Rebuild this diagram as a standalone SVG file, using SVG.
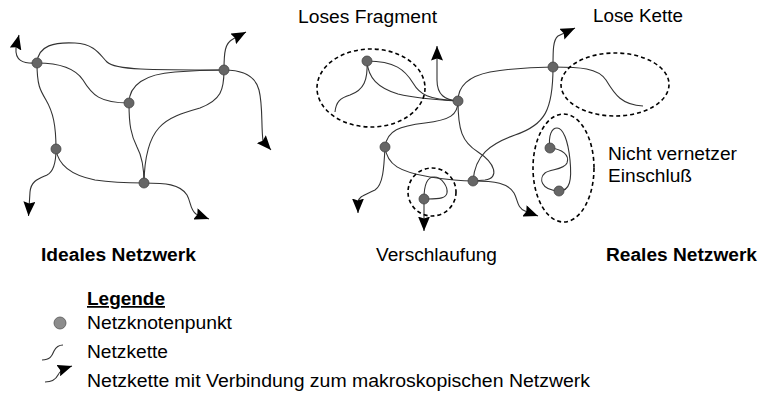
<svg xmlns="http://www.w3.org/2000/svg" width="762" height="396" viewBox="0 0 762 396">
  <style>
    .e { fill: none; stroke: #333; stroke-width: 1.1; }
    .a { marker-end: url(#ah); }
    .n { fill: #666; stroke: #444; stroke-width: 0.8; }
    .d { fill: none; stroke: #000; stroke-width: 1.6; stroke-dasharray: 4 3; }
    .t { font-family: "Liberation Sans", Arial, sans-serif; font-size: 17.5px; fill: #000; }
    .b { font-weight: bold; }
  </style>
  <defs>
    <marker id="ah" markerUnits="userSpaceOnUse" markerWidth="15" markerHeight="12" viewBox="0 0 15 12" refX="14.5" refY="6" orient="auto">
      <path d="M0,0 L14.5,6 L0,12 L2,6 z" fill="#000"/>
    </marker>
  </defs>
  <rect width="762" height="396" fill="#fff"/>

  <!-- ideal network: chains -->
  <g id="connectors-ideal">
    <path class="e a" d="M37,63 C22,64 15,60 16,48 C16.5,43 18,39 19,35"/>
    <path class="e" d="M37,63 C38,45 55,42 75,43 C95,44 100,55 107,62 C115,70 150,70 224,70"/>
    <path class="e" d="M37,63 C60,63 75,68 83,80 C92,95 100,103 129,103"/>
    <path class="e" d="M37,63 C37,85 40,90 46,100 C53,112 56,125 56,149"/>
    <path class="e" d="M129,103 C129,85 145,74 175,72 C200,70 215,70 224,70"/>
    <path class="e" d="M129,103 C129,125 131,135 137,147 C143,158 144,170 144,183"/>
    <path class="e" d="M224,70 C224,90 221,100 200,108 C165,118 145,125 144,183"/>
    <path class="e a" d="M224,70 C224,52 225,43 233,39 L246,32"/>
    <path class="e a" d="M224,70 C240,70 255,74 259,90 C263,106 261,125 263,141 L271,150"/>
    <path class="e" d="M56,149 C58,165 70,175 95,180 C115,183 130,183 144,183"/>
    <path class="e a" d="M56,149 C56,165 53,172 47,175 C38,179 31,181 30,192 L28.5,216"/>
    <path class="e a" d="M144,183 C165,183 180,184 187,195 C191,202 190,210 196,214 L209,219"/>
  </g>

  <!-- real network: chains -->
  <g id="connectors-real">
    <path class="e" d="M367,61 C395,61 405,70 413,83 C420,95 428,99 458,101"/>
    <path class="e" d="M367,61 C368,78 378,88 398,94 C415,98 440,100 458,101"/>
    <path class="e" d="M367,61 C368,80 364,90 350,95 C340,98 336,102 335,112"/>
    <path class="e a" d="M458,101 C445,100 437,95 437,80 L437,46"/>
    <path class="e" d="M458,101 C458,85 470,76 490,72 C515,68 535,67 553,67"/>
    <path class="e" d="M458,101 C458,115 450,120 425,123 C400,126 387,130 385,147"/>
    <path class="e" d="M458,101 C458,130 462,142 478,152 C495,163 500,178 485,180 L473,181"/>
    <path class="e" d="M553,67 C553,110 545,125 515,135 C490,144 475,155 473,181"/>
    <path class="e" d="M385,147 C387,165 400,172 430,177 C450,180 460,181 473,181"/>
    <path class="e a" d="M385,147 C384,168 383,185 375,190 C365,195 359,196 358,202 L358,213"/>
    <path class="e" d="M424,199 C424,186 426,177 434,177 C442,177 448,187 447,193 C446,198 440,199 428,199"/>
    <path class="e a" d="M424,199 L424,231"/>
    <path class="e a" d="M473,181 C495,181 508,183 514,193 C518,200 517,208 525,211 L538,216"/>
    <path class="e a" d="M553,67 C553,50 553,40 558,36 L575,28"/>
    <path class="e" d="M553,67 C580,67 598,68 606,80 C615,95 622,105 643,106"/>
    <path class="e" d="M550,148 C548,135 552,128 557,128 C563,128 568,140 570,160 C572,180 570,191 559,191"/>
    <path class="e" d="M550,148 C562,149 570,155 567,163 C564,170 550,169 545,173 C539,178 540,190 559,191"/>
  </g>

  <!-- highlighted defects -->
  <g id="marks">
    <ellipse class="d" cx="371" cy="88" rx="54" ry="39"/>
    <circle class="d" cx="432" cy="192" r="24"/>
    <ellipse class="d" cx="615" cy="84.5" rx="54" ry="31.5"/>
    <ellipse class="d" cx="563.5" cy="168" rx="30.5" ry="54"/>
  </g>

  <!-- ideal network: junctions -->
  <g id="ideal-a"><circle class="n" cx="37" cy="63" r="5"/></g>
  <g id="ideal-b"><circle class="n" cx="129" cy="103" r="5"/></g>
  <g id="ideal-c"><circle class="n" cx="224" cy="70" r="5"/></g>
  <g id="ideal-d"><circle class="n" cx="56" cy="149" r="5"/></g>
  <g id="ideal-e"><circle class="n" cx="144" cy="183" r="5"/></g>

  <!-- real network: junctions -->
  <g id="real-fragment"><circle class="n" cx="367" cy="61" r="5"/></g>
  <g id="real-g"><circle class="n" cx="458" cy="101" r="5"/></g>
  <g id="real-h"><circle class="n" cx="385" cy="147" r="5"/></g>
  <g id="real-loop"><circle class="n" cx="424" cy="199" r="5"/></g>
  <g id="real-j"><circle class="n" cx="473" cy="181" r="5"/></g>
  <g id="real-k"><circle class="n" cx="553" cy="67" r="5"/></g>
  <g id="real-incl-top"><circle class="n" cx="550" cy="148" r="5"/></g>
  <g id="real-incl-bottom"><circle class="n" cx="559" cy="191" r="5"/></g>

  <!-- labels -->
  <g id="labels">
    <text class="t" x="298" y="23" textLength="139" lengthAdjust="spacingAndGlyphs">Loses Fragment</text>
    <text class="t" x="593" y="22" textLength="90" lengthAdjust="spacingAndGlyphs">Lose Kette</text>
    <text class="t" x="608" y="160" textLength="129" lengthAdjust="spacingAndGlyphs">Nicht vernetzer</text>
    <text class="t" x="608" y="182" textLength="84" lengthAdjust="spacingAndGlyphs">Einschluß</text>
    <text class="t b" x="41" y="261" textLength="155" lengthAdjust="spacingAndGlyphs">Ideales Netzwerk</text>
    <text class="t" x="376" y="261" textLength="121" lengthAdjust="spacingAndGlyphs">Verschlaufung</text>
    <text class="t b" x="606" y="261" textLength="151" lengthAdjust="spacingAndGlyphs">Reales Netzwerk</text>
  </g>

  <!-- legend -->
  <g id="legend">
    <text class="t b" x="87" y="305" textLength="78" lengthAdjust="spacingAndGlyphs" text-decoration="underline">Legende</text>
    <circle cx="60" cy="323" r="6" fill="#8c8c8c" stroke="#555" stroke-width="0.8"/>
    <text class="t" x="87" y="329" textLength="145" lengthAdjust="spacingAndGlyphs">Netzknotenpunkt</text>
    <path class="e" d="M42,360 C50,360 52,356 54,351 C56,347 58,345 63,345"/>
    <text class="t" x="87" y="358" textLength="81" lengthAdjust="spacingAndGlyphs">Netzkette</text>
    <path class="e a" d="M45,382 C53,382 56,379 58,375 C60,371 63,369 72,366"/>
    <text class="t" x="87" y="387" textLength="503" lengthAdjust="spacingAndGlyphs">Netzkette mit Verbindung zum makroskopischen Netzwerk</text>
  </g>
</svg>
